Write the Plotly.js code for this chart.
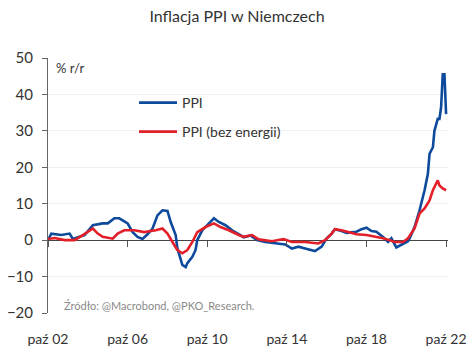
<!DOCTYPE html>
<html>
<head>
<meta charset="utf-8">
<script src="https://cdn.plot.ly/plotly-3.0.1.min.js"></script>
<style>html,body{margin:0;padding:0;background:#fff;}#chart{width:474px;height:354px;}</style>
</head>
<body>
<div id="chart"></div>
<script>
// PPI (y/y, %)
const ppiDates = ["2002-10","2002-12","2003-06","2003-11","2004-01","2004-08","2005-01","2005-07","2005-10","2006-02","2006-05","2006-10","2007-01","2007-04","2007-07","2007-10","2008-01","2008-04","2008-07","2008-10","2008-12","2009-03","2009-04","2009-07","2009-09","2009-10","2010-01","2010-03","2010-04","2010-07","2010-10","2011-02","2011-05","2011-09","2012-01","2012-06","2012-08","2012-12","2013-04","2013-09","2014-03","2014-09","2015-01","2015-05","2015-09","2016-03","2016-07","2016-10","2017-01","2017-03","2017-07","2017-10","2018-04","2018-07","2018-10","2019-01","2019-04","2019-08","2019-11","2020-01","2020-04","2020-08","2020-11","2020-12","2021-03","2021-06","2021-09","2021-11","2021-12","2022-02","2022-03","2022-05","2022-06","2022-07","2022-08","2022-09","2022-10"];
const ppiValues = [0.0,1.8,1.4,1.8,0.3,1.4,4.1,4.6,4.6,6.0,6.0,4.6,2.2,0.9,0.3,1.6,3.2,6.8,8.2,8.0,4.9,1.4,-2.2,-6.8,-7.4,-6.3,-4.6,-2.7,0.0,2.7,4.1,6.0,5.0,4.1,2.7,1.4,0.8,1.3,0.0,-0.5,-0.9,-1.2,-2.3,-1.8,-2.3,-3.0,-1.8,0.5,1.8,3.0,2.5,2.0,2.3,3.0,3.4,2.5,2.3,0.9,-0.5,0.5,-2.0,-0.9,-0.3,0.5,3.6,8.2,13.7,18.2,23.7,25.5,30.0,33.3,33.3,36.4,45.5,45.5,34.6];

// PPI excluding energy (y/y, %)
const coreDates = ["2002-10","2003-02","2003-08","2004-02","2004-07","2005-01","2005-04","2005-07","2006-01","2006-04","2006-08","2007-02","2007-08","2008-03","2008-07","2008-10","2009-01","2009-04","2009-07","2009-10","2010-01","2010-04","2010-09","2011-02","2011-06","2011-11","2012-05","2012-08","2013-01","2013-05","2014-01","2014-08","2015-01","2015-09","2016-05","2016-09","2017-01","2017-03","2017-07","2017-10","2018-04","2018-10","2019-04","2019-08","2019-12","2020-03","2020-08","2020-11","2021-03","2021-06","2021-09","2021-12","2022-02","2022-05","2022-06","2022-08","2022-10"];
const coreValues = [0.3,0.6,0.0,0.0,1.4,3.2,1.8,0.9,0.4,1.8,2.7,2.7,2.2,2.7,3.2,1.8,-0.5,-2.7,-3.6,-2.7,-0.5,2.2,3.6,4.6,3.6,2.7,1.4,0.9,1.4,0.2,-0.3,0.3,-0.5,-0.5,-0.9,0.0,1.8,3.0,2.7,2.3,1.6,1.4,0.9,0.5,0.0,-0.5,-0.5,0.5,3.2,7.3,8.7,10.9,13.7,16.4,15.0,14.2,13.7];

const tickDates = ["2002-10-01","2006-10-01","2010-10-01","2014-10-01","2018-10-01","2022-10-01"];
const tickLabels = ["paź 02","paź 06","paź 10","paź 14","paź 18","paź 22"];

const seriesNames = ["PPI","PPI (bez energii)"];

const FONT = "Lato, 'Open Sans', sans-serif";
const xRange = ["2002-10-01","2022-11-05"];

const traces = [
  {x: ppiDates, y: ppiValues, name: seriesNames[0], type: "scatter", mode: "lines",
   line: {color: "#0d4a9c", width: 2.6}, xaxis: "x", yaxis: "y", legend: "legend"},
  {x: coreDates, y: coreValues, name: seriesNames[1], type: "scatter", mode: "lines",
   line: {color: "#e3202a", width: 2.6}, xaxis: "x2", yaxis: "y", legend: "legend2"}
];

const layout = {
  width: 474, height: 354,
  margin: {l: 48, r: 26, t: 58, b: 41},
  paper_bgcolor: "#fff", plot_bgcolor: "#fff",
  font: {family: FONT, size: 13, color: "#333"},
  showlegend: true,
  title: {text: "Inflacja PPI w Niemczech", x: 0.5, xanchor: "center", y: 0.955, yanchor: "middle",
          font: {family: FONT, size: 16, color: "#333", weight: 400}},
  xaxis: {type: "date", range: xRange, tickvals: tickDates, ticktext: tickLabels,
          showgrid: false, showline: false, zeroline: false, ticks: "",
          tickfont: {size: 14, color: "#333"}, ticklabelstandoff: 16},
  xaxis2: {type: "date", range: xRange, overlaying: "x", anchor: "free", position: 20/70,
           tickvals: tickDates, showticklabels: false, showgrid: false, showline: false,
           zeroline: false, ticks: "outside", ticklen: 6, tickcolor: "#555", tickwidth: 1},
  yaxis: {range: [-20, 50], dtick: 10, tick0: 0, showline: true, linecolor: "#666", linewidth: 1,
          ticks: "outside", ticklen: 5, tickcolor: "#666", gridcolor: "#f0f0f0",
          zeroline: true, zerolinecolor: "#444", zerolinewidth: 1,
          tickfont: {size: 15, color: "#333"}, ticklabelstandoff: 6},
  legend: {x: (134 - 48) / 400, y: 1 - (103 - 58) / 255, xanchor: "left", yanchor: "middle",
           itemwidth: 38, bgcolor: "rgba(0,0,0,0)", font: {size: 14, color: "#333"}},
  legend2: {x: (134 - 48) / 400, y: 1 - (132 - 58) / 255, xanchor: "left", yanchor: "middle",
            itemwidth: 38, bgcolor: "rgba(0,0,0,0)", font: {size: 14, color: "#333"}},
  annotations: [
    {text: "% r/r", xref: "paper", yref: "paper", x: (54 - 48) / 400, y: 1 - (68 - 58) / 255,
     xanchor: "left", yanchor: "middle", showarrow: false, font: {size: 13, color: "#333"}},
    {text: "Źródło: @Macrobond, @PKO_Research.", xref: "paper", yref: "paper",
     x: (62 - 48) / 400, y: 1 - (305 - 58) / 255, xanchor: "left", yanchor: "middle",
     showarrow: false, font: {size: 11, color: "#8a8a8a"}}
  ]
};

Plotly.newPlot("chart", traces, layout, {displayModeBar: false, staticPlot: true});
</script>
</body>
</html>
